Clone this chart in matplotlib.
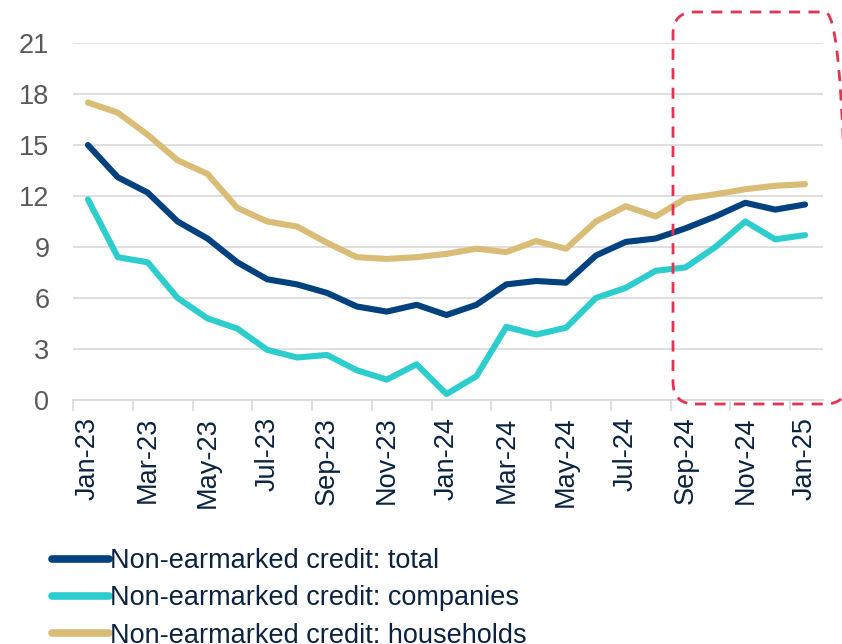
import matplotlib
matplotlib.use("Agg")
import matplotlib.pyplot as plt
from matplotlib.patches import FancyBboxPatch
from matplotlib.transforms import IdentityTransform

months = ["Jan-23", "Feb-23", "Mar-23", "Apr-23", "May-23", "Jun-23", "Jul-23", "Aug-23",
          "Sep-23", "Oct-23", "Nov-23", "Dec-23", "Jan-24", "Feb-24", "Mar-24", "Apr-24",
          "May-24", "Jun-24", "Jul-24", "Aug-24", "Sep-24", "Oct-24", "Nov-24", "Dec-24",
          "Jan-25"]
total = [15.0, 13.1, 12.2, 10.5, 9.5, 8.1, 7.1, 6.8, 6.3, 5.5, 5.2, 5.6, 5.0,
         5.6, 6.8, 7.0, 6.9, 8.5, 9.3, 9.5, 10.1, 10.8, 11.6, 11.2, 11.5]
companies = [11.8, 8.4, 8.1, 6.0, 4.8, 4.2, 2.95, 2.5, 2.65, 1.75, 1.2, 2.1, 0.35,
             1.4, 4.3, 3.85, 4.25, 6.0, 6.6, 7.6, 7.8, 9.0, 10.5, 9.45, 9.7]
households = [17.5, 16.9, 15.6, 14.1, 13.3, 11.3, 10.5, 10.2, 9.25, 8.4, 8.3, 8.4, 8.6,
              8.9, 8.7, 9.35, 8.9, 10.5, 11.4, 10.8, 11.85, 12.1, 12.4, 12.6, 12.7]
yticks = [0, 3, 6, 9, 12, 15, 18, 21]

plt.rcParams["font.family"] = ["Liberation Sans", "DejaVu Sans"]
FS = 19.5

fig = plt.figure(figsize=(8.42, 6.44), dpi=100)
ax = fig.add_axes([73 / 842, 1 - 400 / 644, 750 / 842, 357 / 644])

x = list(range(len(months)))
ax.plot(x, total, color="#01417E", lw=4.4, solid_capstyle="round", solid_joinstyle="round",
        label="Non-earmarked credit: total", zorder=3)
ax.plot(x, companies, color="#2ECDCD", lw=4.4, solid_capstyle="round", solid_joinstyle="round",
        label="Non-earmarked credit: companies", zorder=3)
ax.plot(x, households, color="#D9BD77", lw=4.4, solid_capstyle="round", solid_joinstyle="round",
        label="Non-earmarked credit: households", zorder=3)

ax.set_xlim(-0.5, len(months) - 0.5 + 0.1)
ax.set_ylim(0, 21)
ax.set_yticks(yticks)
ax.set_yticklabels([str(v) for v in yticks], color="#595959", fontsize=FS)
ax.tick_params(axis="y", length=0, pad=17)
ax.grid(axis="y", color="#D9D9D9", lw=1.2)
ax.set_axisbelow(True)

# labels at every second month, tick marks on category boundaries
ax.set_xticks(x[::2])
ax.set_xticklabels(months[::2], rotation=90, color="#0C2340", fontsize=FS)
ax.set_xticks([i - 0.5 for i in x[::2]], minor=True)
ax.tick_params(axis="x", which="major", length=0, pad=12)
ax.tick_params(axis="x", which="minor", length=8, color="#D9D9D9", width=1.2)

for s in ["top", "right", "left"]:
    ax.spines[s].set_visible(False)
ax.spines["bottom"].set_color("#D9D9D9")
ax.spines["bottom"].set_linewidth(1.2)

# highlight box (pixels)
box = FancyBboxPatch((673, 644 - 404), 174, 392,
                     boxstyle="round,pad=0,rounding_size=22",
                     transform=IdentityTransform(), fill=False,
                     edgecolor="#E03552", lw=2, linestyle=(0, (4, 3)))
fig.patches.append(box)

leg = fig.legend(loc="upper left", bbox_to_anchor=(52 / 842, 1 - 548 / 644),
                 frameon=False, fontsize=FS, handlelength=2.1, handletextpad=0.05,
                 labelspacing=0.42, borderaxespad=0, borderpad=0)
for t in leg.get_texts():
    t.set_color("#0C2340")
for h in leg.get_lines():
    h.set_linewidth(5.5)
    h.set_solid_capstyle("round")

fig.savefig("out.png", dpi=100)
